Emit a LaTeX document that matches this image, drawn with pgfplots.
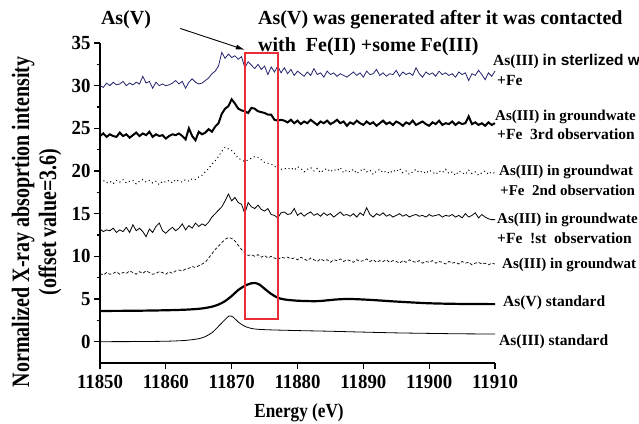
\documentclass[border=0pt]{standalone}
\usepackage{pgfplots}
\pgfplotsset{compat=1.18}
\usepackage{pgfplotstable}
\usepackage{fontspec}
\setmainfont{Liberation Serif}
\setsansfont{Liberation Sans}
\newfontfamily\ylfont[FakeStretch=0.80]{Liberation Serif}
\newfontfamily\tkfont[FakeStretch=0.94]{Liberation Serif}
\newfontfamily\xlfont[FakeStretch=0.86]{Liberation Serif}
\usetikzlibrary{arrows.meta}
\definecolor{specblue}{RGB}{35,35,110}
\definecolor{boxred}{RGB}{235,45,55}

% columns: energy, groundwater, 1st, 2nd, 3rd observation, sterilized water
\pgfplotstableread{
x gw o1 o2 o3 st
11850.0 8.0 13.2 18.7 24.1 30.0
11850.5 7.8 12.9 18.9 24.4 29.8
11851.0 8.1 13.1 18.6 24.0 30.3
11851.5 7.9 13.0 18.8 24.3 30.0
11852.0 8.0 13.3 18.5 24.1 30.4
11852.5 8.2 12.8 18.9 24.0 30.1
11853.0 7.9 13.1 18.7 24.5 30.2
11853.5 8.1 12.9 19.0 24.1 30.5
11854.0 8.0 13.4 18.6 24.3 30.0
11854.5 8.3 12.8 18.8 23.9 30.3
11855.0 8.1 13.7 18.9 24.2 30.1
11855.5 7.9 13.0 18.5 24.5 30.4
11856.0 8.2 13.3 18.8 24.1 30.2
11856.5 8.0 12.9 19.0 24.4 31.1
11857.0 8.3 12.3 18.7 24.2 30.3
11857.5 8.1 13.2 18.9 24.6 30.5
11858.0 7.9 12.8 18.6 24.0 29.7
11858.5 8.0 13.5 18.8 24.3 30.4
11859.0 8.2 13.9 18.4 24.1 30.0
11859.5 8.1 13.0 18.8 24.2 30.2
11860.0 7.9 12.7 18.7 23.8 30.0
11860.5 8.2 13.1 18.9 24.1 30.1
11861.0 8.0 13.4 18.6 24.3 30.3
11861.5 8.3 13.0 19.0 24.2 30.6
11862.0 8.4 13.3 18.8 24.4 30.2
11862.5 8.3 13.8 18.7 24.1 30.5
11863.0 8.5 13.1 19.0 23.7 29.7
11863.5 8.6 13.6 18.8 25.0 30.4
11864.0 8.8 13.3 19.1 24.1 30.8
11864.5 8.7 13.9 19.0 23.6 30.4
11865.0 8.9 13.5 19.3 24.6 30.2
11865.5 9.1 13.8 19.5 24.3 30.3
11866.0 9.3 13.6 19.9 24.5 30.6
11866.5 9.8 14.0 20.3 24.9 30.9
11867.0 10.3 14.6 20.8 24.6 31.4
11867.5 10.8 15.0 21.2 25.2 31.7
11868.0 11.2 15.4 21.7 25.6 32.3
11868.5 11.6 15.8 22.3 26.7 33.9
11869.0 12.0 16.5 22.8 27.3 33.2
11869.5 12.2 17.3 22.6 27.6 33.7
11870.0 12.1 16.5 22.4 28.4 33.3
11870.5 11.8 16.9 22.0 27.9 33.5
11871.0 11.3 16.3 21.5 27.3 33.1
11871.5 10.8 16.1 21.3 27.1 33.4
11872.0 10.4 15.0 21.1 27.0 32.1
11872.5 10.1 16.3 21.3 26.8 32.8
11873.0 10.2 15.8 21.5 27.4 32.4
11873.5 10.0 15.6 21.7 27.3 32.0
11874.0 10.2 16.0 21.6 27.0 32.5
11874.5 9.9 15.5 21.3 26.9 31.9
11875.0 10.1 15.3 21.0 26.8 32.3
11875.5 9.8 15.6 20.9 26.6 31.3
11876.0 10.0 14.9 20.8 26.6 32.2
11876.5 9.8 14.8 20.6 26.0 31.6
11877.0 9.6 14.5 20.1 25.9 32.3
11877.5 9.9 15.1 20.2 26.0 31.5
11878.0 9.8 15.2 20.3 25.9 32.1
11878.5 9.9 14.9 20.2 25.7 31.4
11879.0 9.7 15.0 20.4 26.0 31.9
11879.5 9.8 15.6 20.1 25.6 31.2
11880.0 9.6 14.8 20.5 25.9 31.7
11880.5 9.9 15.1 20.3 25.5 31.4
11881.0 9.7 14.7 19.9 25.8 31.1
11881.5 9.5 15.0 20.2 25.6 31.6
11882.0 9.8 15.2 20.4 26.0 31.2
11882.5 9.6 14.8 20.0 25.7 32.0
11883.0 9.4 15.0 20.3 25.4 31.3
11883.5 9.7 14.7 19.8 25.8 31.5
11884.0 9.5 15.1 20.1 25.6 31.0
11884.5 9.6 14.8 20.3 25.9 31.7
11885.0 9.3 15.0 19.9 25.5 31.3
11885.5 9.6 14.6 20.2 25.7 31.5
11886.0 9.5 14.9 20.0 26.0 31.1
11886.5 9.7 15.2 20.4 25.6 31.4
11887.0 9.4 14.8 19.8 25.8 31.2
11887.5 9.6 14.9 20.1 25.3 31.0
11888.0 9.5 14.7 19.9 25.7 31.3
11888.5 9.3 15.0 20.2 25.5 31.6
11889.0 9.6 14.6 19.7 25.9 31.2
11889.5 9.4 15.1 20.0 25.6 31.5
11890.0 9.5 14.8 20.3 25.4 31.0
11890.5 9.7 15.7 19.9 25.8 31.7
11891.0 9.4 14.9 20.1 25.5 31.3
11891.5 9.6 14.6 19.6 25.7 31.4
11892.0 9.3 15.0 20.0 25.3 31.9
11892.5 9.5 14.8 20.2 25.6 31.2
11893.0 9.4 15.1 19.8 25.9 31.5
11893.5 9.6 14.7 20.0 25.5 31.1
11894.0 9.3 14.9 19.7 25.7 31.4
11894.5 9.5 14.6 20.1 25.4 31.3
11895.0 9.4 14.8 19.9 25.8 31.8
11895.5 9.2 15.0 20.3 25.6 31.1
11896.0 9.5 14.7 19.8 25.3 31.6
11896.5 9.3 14.9 20.0 25.7 31.3
11897.0 9.6 14.6 19.6 25.5 31.5
11897.5 9.4 14.8 19.9 25.9 31.2
11898.0 9.3 14.9 20.2 25.4 32.1
11898.5 9.5 14.7 19.8 25.6 31.4
11899.0 9.2 14.8 20.0 25.8 31.0
11899.5 9.4 14.6 19.7 25.5 31.6
11900.0 9.3 14.9 20.1 25.3 31.3
11900.5 9.5 14.7 19.9 25.7 31.5
11901.0 9.2 14.8 19.6 25.5 31.1
11901.5 9.4 14.9 20.0 25.9 31.7
11902.0 9.3 14.6 19.8 25.4 31.3
11902.5 9.1 14.8 20.2 25.6 31.5
11903.0 9.4 14.7 19.7 25.5 31.2
11903.5 9.2 14.9 19.9 25.8 31.4
11904.0 9.3 14.6 19.5 25.4 31.0
11904.5 9.1 14.8 20.0 25.7 31.6
11905.0 9.4 14.5 19.8 25.5 31.3
11905.5 9.2 15.0 19.6 25.6 31.5
11906.0 9.3 14.6 20.1 26.4 30.6
11906.5 9.0 14.8 19.7 25.5 31.4
11907.0 9.2 15.1 19.9 25.7 31.2
11907.5 9.3 14.5 19.5 25.4 31.8
11908.0 9.1 14.9 19.8 25.6 31.3
11908.5 9.2 14.6 20.0 25.3 30.7
11909.0 9.0 14.4 19.6 25.7 31.5
11909.5 9.2 14.3 19.9 25.4 31.1
11910.0 9.1 14.3 19.7 25.6 31.7
}\spectra

\begin{document}
\begin{tikzpicture}
\useasboundingbox (0pt,0pt) rectangle (639pt,423pt);
\begin{axis}[
  at={(100pt,60pt)}, anchor=south west,
  scale only axis, width=395pt, height=320pt,
  xmin=11850, xmax=11910, ymin=-2.5, ymax=35,
  axis x line*=bottom, axis y line*=left,
  axis line style={line width=1.2pt},
  xtick={11850,11860,...,11910}, ytick={0,5,...,35},
  minor x tick num=1, minor y tick num=1,
  tick align=outside, major tick length=6pt, minor tick length=3.5pt,
  every tick/.style={line width=1.2pt, black},
  scaled x ticks=false,
  /pgf/number format/assume math mode=true,
  /pgf/number format/1000 sep={},
  ticklabel style={font=\tkfont\bfseries\fontsize{20}{20}\selectfont},
  xticklabel style={yshift=-3pt},
  clip=false,
]
% standards
\addplot[black, line width=0.8pt, smooth] coordinates {
(11850,0) (11855,0.01) (11860,0.05) (11863,0.15) (11865,0.35) (11866,0.6)
(11867,1.05) (11868,1.8) (11869,2.6) (11869.6,3.0) (11870.2,2.9) (11871,2.3)
(11872,1.8) (11873,1.55) (11874,1.45) (11876,1.38) (11880,1.3) (11885,1.22)
(11890,1.12) (11895,1.03) (11900,0.97) (11905,0.92) (11910,0.9)};
\addplot[black, line width=2.2pt, smooth] coordinates {
(11850,3.6) (11855,3.62) (11860,3.68) (11863,3.75) (11865,3.85) (11866,3.95)
(11867,4.1) (11868,4.35) (11869,4.75) (11870,5.35) (11871,6.05) (11872,6.55)
(11873,6.85) (11873.6,6.87) (11874.3,6.65) (11875,6.2) (11876,5.6) (11877,5.15)
(11878,4.95) (11880,4.8) (11883,4.75) (11886,4.95) (11888,5.0) (11891,4.9)
(11895,4.7) (11900,4.5) (11905,4.42) (11910,4.4)};
% samples
\addplot[black, line width=0.7pt, dash pattern=on 3pt off 2pt] table[x=x, y=gw] {\spectra};
\addplot[black, line width=0.8pt] table[x=x, y=o1] {\spectra};
\addplot[black, line width=1pt, dash pattern=on 1pt off 3pt] table[x=x, y=o2] {\spectra};
\addplot[black, line width=2pt] table[x=x, y=o3] {\spectra};
\addplot[specblue, line width=0.8pt] table[x=x, y=st] {\spectra};
% annotations
\draw[boxred, line width=2pt] (axis cs:11872.1,2.7) rectangle (axis cs:11877.0,33.8);
\draw[-{Latex[length=9pt,width=5pt]}, line width=0.9pt] (axis cs:11862.2,36.7) -- (axis cs:11872.0,34.2);
\end{axis}

\node[rotate=90, align=center, font=\ylfont\bfseries\fontsize{25}{27}\selectfont] at (36.5pt,201pt)
  {Normalized X-ray absoprtion intensity\\(offset value=3.6)};
\node[font=\xlfont\bfseries\fontsize{20}{20}\selectfont] at (299pt,10pt) {Energy (eV)};

\begin{scope}[every node/.style={inner sep=0pt, font=\bfseries\fontsize{20}{22}\selectfont}]
\node at (126pt,403pt) {As(V)};
\node[anchor=west] at (258pt,403pt) {As(V) was generated after it was contacted};
\node[anchor=west] at (258pt,376pt) {with\ \ Fe(II) +some Fe(III)};
\end{scope}

\begin{scope}[every node/.style={anchor=west, inner sep=0pt, font=\bfseries\fontsize{15.5}{17}\selectfont}]
\node at (493pt,361pt) {As(III) {\sffamily in sterlized w}};
\node at (497pt,342pt) {+Fe};
\node[font=\bfseries\fontsize{15}{17}\selectfont] at (495pt,306pt) {As(III) in groundwate};
\node at (497pt,289pt) {+Fe\ \ 3rd observation};
\node[font=\bfseries\fontsize{15}{17}\selectfont] at (499pt,251pt) {As(III) in groundwat};
\node[font=\bfseries\fontsize{15}{17}\selectfont] at (500pt,233pt) {+Fe\ \ 2nd observation};
\node[font=\bfseries\fontsize{15}{17}\selectfont] at (497pt,203pt) {As(III) in groundwate};
\node at (497pt,185pt) {+Fe\ \ !st\ \ observation};
\node[font=\bfseries\fontsize{15}{17}\selectfont] at (502pt,158pt) {As(III) in groundwat};
\node at (503pt,120pt) {As(V) standard};
\node at (499pt,81pt) {As(III) standard};
\end{scope}
\end{tikzpicture}
\end{document}
